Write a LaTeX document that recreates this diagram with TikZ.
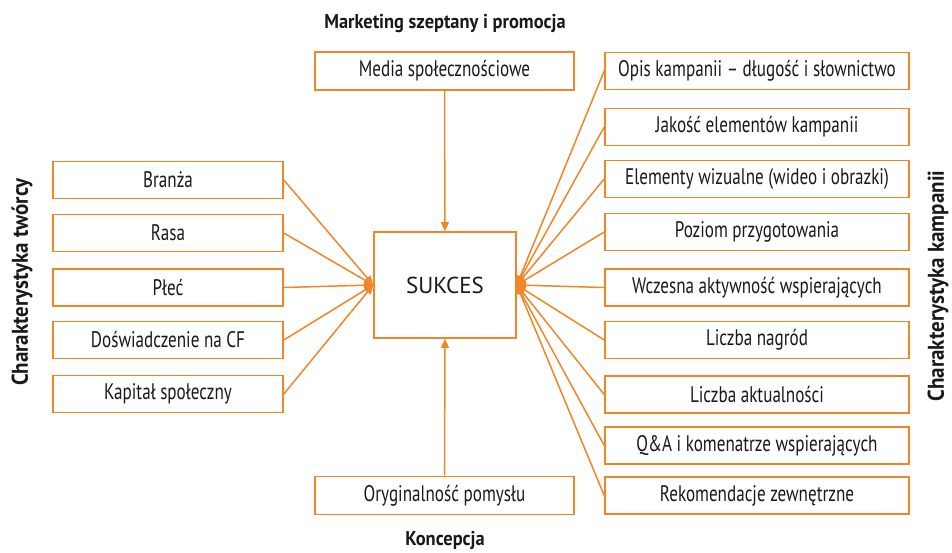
\documentclass[tikz,border=0pt]{standalone}
\usepackage{fontspec}
\setmainfont{PT Sans}[FakeStretch=0.76]
\newfontfamily\widefont{PT Sans}
\newfontfamily\hfont{PT Sans}[FakeStretch=0.92]
\usetikzlibrary{arrows.meta}
\definecolor{orng}{RGB}{240,134,38}
\definecolor{ink}{RGB}{25,25,25}
\begin{document}
\begin{tikzpicture}[x=1pt,y=-1pt,
  box/.style={draw=orng,line width=1.6pt,fill=white,inner sep=0pt,text=ink,font=\fontsize{22.5}{24}\selectfont},
  lbox/.style={box,minimum width=230pt,minimum height=37pt},
  rbox/.style={box,minimum width=304pt,minimum height=37pt},
  cbox/.style={box,minimum width=259pt,minimum height=38pt},
  hdr/.style={text=ink,font=\hfont\fontsize{20}{22}\selectfont\bfseries,inner sep=0pt},
  side/.style={text=ink,font=\hfont\fontsize{22.8}{24}\selectfont\bfseries,inner sep=0pt,rotate=90},
  arr/.style={draw=orng,line width=1.5pt,-{Triangle[length=9pt,width=8pt]}}]
\useasboundingbox (0,0) rectangle (952,553);
% centre
\node[draw=orng,line width=1.6pt,minimum width=142pt,minimum height=106pt,inner sep=0pt,text=ink,font=\widefont\fontsize{23}{26}\selectfont] (s) at (445,285) {SUKCES};
% top / bottom
\node[cbox] (media) at (444.5,71) {Media społecznościowe};
\node[cbox] (oryg) at (444.5,495.5) {Oryginalność pomysłu};
\node[hdr] (hm) at (445,24) {Marketing szeptany i promocja};
\node[hdr] (hk) at (445,540) {Koncepcja};
% left
\node[lbox] (l1) at (168,180) {Branża};
\node[lbox] (l2) at (168,233) {Rasa};
\node[lbox] (l3) at (168,287.5) {Płeć};
\node[lbox] (l4) at (168,340) {Doświadczenie na CF};
\node[lbox] (l5) at (168,394) {Kapitał społeczny};
\node[side] (hl) at (22,282) {Charakterystyka twórcy};
% right
\node[rbox] (r1) at (757,71) {Opis kampanii -- długość i słownictwo};
\node[rbox] (r2) at (757,127) {Jakość elementów kampanii};
\node[rbox] (r3) at (757,179) {Elementy wizualne (wideo i obrazki)};
\node[rbox] (r4) at (757,232) {Poziom przygotowania};
\node[rbox] (r5) at (757,287.5) {Wczesna aktywność wspierających};
\node[rbox] (r6) at (757,340) {Liczba nagród};
\node[rbox] (r7) at (757,394.5) {Liczba aktualności};
\node[rbox] (r8) at (757,445.5) {Q\&A i komenatrze wspierających};
\node[rbox] (r9) at (757,495.5) {Rekomendacje zewnętrzne};
\node[side] (hr) at (938,286) {Charakterystyka kampanii};
% arrows
\draw[arr] (media.south) -- (s.north);
\draw[arr] (oryg.north) -- (s.south);
\foreach \n in {l1,l2,l3,l4,l5} \draw[arr] (\n.east) -- (s.west);
\foreach \n in {r1,r2,r3,r4,r5,r6,r7,r8,r9} \draw[arr] (\n.west) -- (s.east);
\end{tikzpicture}
\end{document}
